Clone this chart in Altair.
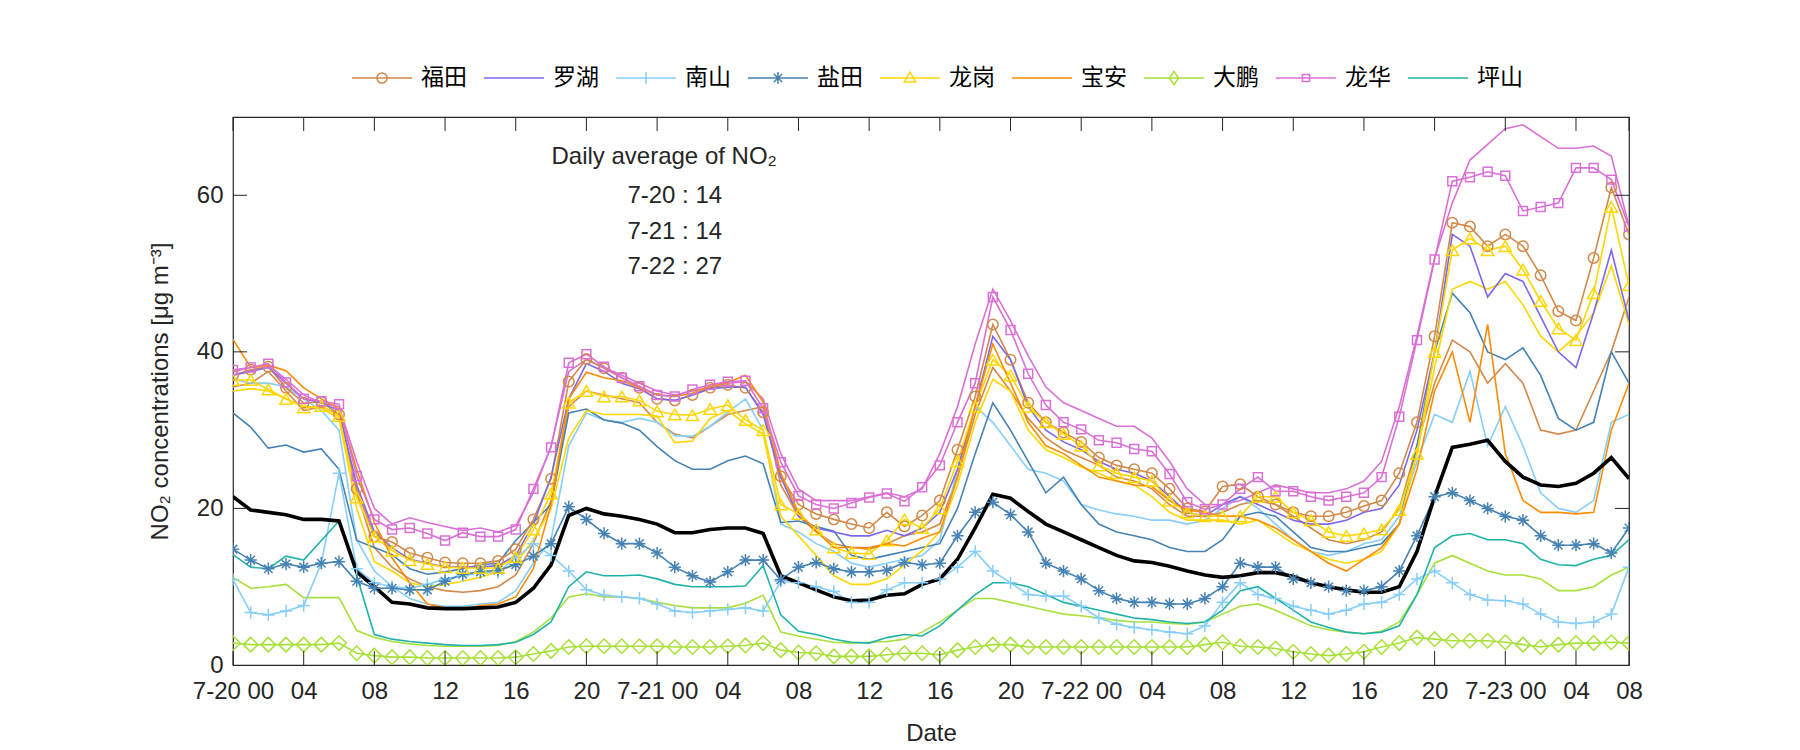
import altair as alt
import pandas as pd

hours = list(range(80))

# district names and colours (legend order)
names = ["福田", "罗湖", "南山", "盐田", "龙岗", "宝安", "大鹏", "龙华", "坪山"]
colors = ["#D2894A", "#7B68EE", "#87CEFA", "#4682B4", "#FFD700", "#FF8C00", "#A8E03A", "#DA70D6", "#20B2AA"]

avg_all = [21.5, 19.8, 19.5, 19.2, 18.6, 18.6, 18.4, 11.9, 10.0, 8.0,
           7.8, 7.3, 7.2, 7.2, 7.3, 7.4, 8.0, 9.8, 12.8, 19.1,
           20.0, 19.3, 19.0, 18.6, 18.0, 16.9, 16.9, 17.3, 17.5, 17.5,
           16.8, 11.4, 10.5, 9.6, 8.7, 8.2, 8.3, 8.9, 9.1, 10.3,
           11.0, 13.5, 17.5, 21.8, 21.3, 19.6, 18.0, 17.0, 16.0, 15.0,
           14.0, 13.3, 13.1, 12.6, 12.0, 11.5, 11.2, 11.4, 11.8, 11.8,
           11.3, 10.5, 10.0, 9.6, 9.3, 9.3, 10.0, 14.5, 21.5, 27.8,
           28.2, 28.7, 26.0, 24.0, 23.0, 22.8, 23.2, 24.5, 26.5, 23.8]

futian = [37.0, 37.7, 38.1, 35.4, 33.5, 33.6, 32.0, 22.5, 16.4, 15.7,
          14.3, 13.7, 13.1, 13.0, 13.0, 13.3, 14.8, 18.6, 23.8, 36.2,
          39.1, 37.9, 36.7, 35.4, 34.0, 33.8, 34.5, 35.4, 35.8, 35.4,
          32.3, 24.1, 20.5, 19.3, 18.6, 18.0, 17.5, 19.5, 17.7, 19.1,
          21.0, 27.5, 34.3, 43.5, 39.0, 33.5, 31.0, 29.7, 28.5, 26.5,
          25.5, 25.0, 24.5, 22.5, 20.0, 19.6, 22.8, 23.1, 21.5, 20.5,
          19.5, 19.0, 19.0, 19.5, 20.3, 21.0, 24.5, 31.0, 42.0, 56.5,
          56.0, 53.5, 55.0, 53.5, 49.8, 45.2, 44.0, 52.0, 61.0, 55.0]

luohu = [37.0, 37.5, 38.0, 36.0, 34.0, 33.5, 32.5, 23.0, 17.0, 15.0,
         13.5, 13.0, 12.5, 12.5, 12.5, 12.7, 14.0, 18.0, 24.0, 34.0,
         38.5, 37.5, 36.0, 35.3, 34.0, 33.8, 34.5, 35.3, 35.5, 35.5,
         32.0, 24.0, 19.0, 17.5, 17.0, 16.5, 16.5, 17.2, 16.5, 17.5,
         19.5, 25.0, 33.0, 42.0, 39.0, 33.0, 30.0, 28.5, 27.5, 26.0,
         25.0, 24.5, 23.5, 21.5, 19.5, 19.0, 20.5, 21.5, 20.5, 19.5,
         18.5, 18.0, 18.0, 18.5, 19.5, 20.0, 23.0, 30.0, 40.0, 55.0,
         53.5, 47.0, 50.0, 49.0, 44.5, 40.0, 38.0, 45.0, 53.0, 44.0]

nanshan = [10.9, 6.7, 6.4, 6.9, 7.6, 13.0, 24.5, 12.3, 10.5, 10.0,
           9.8, 10.3, 11.0, 11.4, 11.8, 11.8, 13.7, 15.5, 14.0, 12.0,
           9.6, 8.9, 8.7, 8.5, 7.8, 6.9, 6.7, 6.9, 7.1, 7.3,
           6.9, 10.7, 10.5, 10.0, 9.4, 8.0, 8.0, 9.6, 10.5, 10.5,
           11.0, 12.5, 14.5, 12.0, 10.5, 9.0, 8.8, 8.8, 7.5, 6.0,
           5.2, 4.8, 4.5, 4.2, 4.0, 5.0, 8.0, 10.5, 9.0, 8.5,
           7.5, 7.0, 6.5, 7.0, 7.8, 8.0, 9.0, 11.0, 12.0, 10.5,
           9.0, 8.3, 8.2, 7.8, 6.5, 5.5, 5.3, 5.5, 6.5, 12.5]

yantian = [14.8, 13.4, 12.3, 12.9, 12.5, 13.0, 13.2, 10.7, 9.8, 9.8,
           9.6, 9.6, 10.7, 11.6, 11.9, 12.1, 12.8, 13.9, 15.5, 20.2,
           18.6, 16.8, 15.5, 15.5, 14.3, 12.5, 11.4, 10.6, 11.9, 13.4,
           13.4, 10.9, 12.5, 13.1, 12.3, 11.9, 11.9, 12.1, 13.1, 12.8,
           13.0, 16.5, 19.5, 20.8, 19.2, 17.0, 13.0, 12.0, 11.0, 9.5,
           8.5, 8.0, 8.0, 7.8, 7.8, 8.5, 10.0, 13.0, 12.5, 12.5,
           11.0, 10.5, 10.0, 9.5, 9.5, 10.0, 12.0, 16.5, 21.5, 22.0,
           21.0, 20.0, 19.0, 18.5, 16.5, 15.3, 15.3, 15.5, 14.3, 17.5]

longgang = [36.4, 36.4, 35.2, 34.0, 32.9, 33.1, 31.8, 21.4, 16.4, 14.6,
            13.4, 12.9, 12.5, 12.4, 12.4, 12.4, 13.8, 17.3, 21.9, 33.5,
            35.0, 34.3, 34.3, 33.8, 32.4, 32.0, 31.9, 32.7, 33.2, 31.3,
            30.0, 20.5, 19.3, 17.3, 15.0, 14.3, 14.2, 15.9, 18.6, 17.5,
            20.0, 26.0, 33.0, 39.0, 37.0, 33.0, 31.0, 29.5, 28.0, 25.5,
            24.5, 24.0, 23.5, 21.0, 19.5, 19.0, 19.0, 19.0, 21.5, 21.5,
            19.5, 18.5, 17.0, 16.5, 16.8, 17.3, 19.8, 27.0, 40.0, 53.0,
            54.5, 53.0, 53.5, 50.5, 46.5, 43.0, 41.5, 47.5, 58.5, 48.5]

baoan = [41.6, 38.0, 38.3, 37.6, 35.4, 34.0, 32.7, 25.0, 18.2, 13.7,
         10.5, 7.8, 7.3, 7.1, 7.6, 7.8, 8.7, 12.3, 20.5, 34.0,
         37.4, 36.7, 36.3, 35.4, 34.5, 34.3, 34.7, 35.6, 36.1, 37.0,
         33.6, 24.5, 19.5, 17.1, 15.0, 15.0, 14.8, 15.5, 15.2, 16.2,
         17.0, 24.0, 33.0, 41.0, 36.0, 31.0, 28.0, 27.0, 25.5, 24.0,
         23.5, 23.0, 22.8, 21.0, 19.8, 19.5, 19.0, 19.0, 18.5, 17.5,
         16.0, 14.5, 13.0, 12.0, 13.5, 15.0, 18.0, 25.0, 35.0, 40.0,
         31.0, 43.5, 27.0, 21.0, 19.5, 19.5, 19.3, 19.5, 30.0, 36.0]

dapeng = [2.8, 2.6, 2.6, 2.6, 2.6, 2.6, 2.8, 1.5, 1.2, 1.0,
          1.0, 0.9, 0.9, 0.9, 0.9, 0.9, 1.0, 1.4, 1.8, 2.3,
          2.4, 2.4, 2.4, 2.4, 2.4, 2.3, 2.3, 2.3, 2.4, 2.5,
          2.8, 1.9, 1.6, 1.5, 1.1, 1.1, 1.1, 1.3, 1.5, 1.5,
          1.3, 1.9, 2.3, 2.6, 2.6, 2.3, 2.3, 2.3, 2.3, 2.3,
          2.3, 2.3, 2.3, 2.3, 2.3, 2.6, 2.9, 2.4, 2.3, 2.1,
          1.7, 1.4, 1.2, 1.4, 1.7, 2.3, 2.8, 3.5, 3.3, 3.1,
          3.1, 3.1, 2.9, 2.6, 2.3, 2.6, 2.8, 2.8, 2.9, 2.8]

longhua = [37.7, 38.0, 38.5, 36.1, 34.0, 33.7, 33.3, 24.1, 18.6, 17.3,
           17.5, 16.8, 15.9, 16.9, 16.4, 16.4, 17.3, 22.5, 27.8, 38.6,
           39.7, 38.1, 36.7, 35.6, 34.5, 34.3, 35.2, 35.8, 36.2, 36.3,
           32.8, 25.9, 21.6, 20.5, 20.0, 20.7, 21.4, 21.9, 20.9, 22.7,
           25.5, 31.0, 36.0, 47.0, 42.8, 37.2, 33.2, 31.0, 30.1, 28.7,
           28.4, 27.6, 27.3, 24.4, 20.8, 19.9, 20.5, 22.5, 24.0, 22.2,
           22.2, 21.5, 21.0, 21.5, 22.0, 24.0, 31.7, 41.5, 51.8, 61.8,
           62.3, 63.0, 62.5, 58.0, 58.5, 59.0, 63.5, 63.5, 62.0, 56.0]

pingshan = [14.1, 12.5, 12.3, 13.9, 13.4, 15.9, 18.4, 11.4, 3.9, 3.3,
            3.0, 2.8, 2.6, 2.5, 2.5, 2.6, 2.9, 3.9, 5.5, 10.0,
            11.9, 11.4, 11.4, 11.5, 11.0, 10.3, 10.0, 10.0, 10.0, 10.1,
            12.7, 6.4, 4.3, 3.9, 3.3, 2.9, 2.8, 3.5, 3.9, 3.7,
            5.0, 7.0, 9.0, 10.5, 10.5, 10.0, 9.0, 8.0, 7.5, 7.0,
            6.5, 6.0, 5.8, 5.5, 5.3, 5.5, 7.0, 9.5, 10.0, 8.5,
            7.0, 5.5, 4.8, 4.2, 4.0, 4.2, 5.0, 9.0, 15.0, 16.5,
            16.8, 16.0, 16.0, 15.5, 13.5, 12.8, 12.7, 13.5, 14.0, 16.0]

# second (unlabelled) lines drawn in the district colours
futian_b = [35.5, 36.0, 37.5, 35.0, 32.5, 33.0, 32.0, 22.0, 15.0, 12.5,
            11.0, 10.0, 9.5, 9.3, 9.5, 10.0, 11.5, 15.5, 21.0, 33.0,
            35.0, 34.5, 34.0, 33.5, 31.0, 29.5, 29.0, 30.5, 32.0, 32.5,
            33.0, 23.0, 19.0, 17.0, 15.5, 15.0, 15.0, 15.5, 16.5, 17.0,
            18.0, 24.0, 32.0, 38.0, 35.0, 31.5, 29.0, 27.5, 26.5, 25.5,
            24.0, 23.5, 22.5, 20.5, 19.0, 19.0, 19.5, 20.5, 21.0, 20.5,
            19.0, 17.5, 16.0, 15.5, 16.0, 17.0, 20.0, 28.0, 36.0, 41.5,
            40.0, 36.0, 38.5, 36.0, 30.0, 29.5, 30.0, 35.0, 40.0, 47.0]

nanshan_b = [36.5, 36.0, 36.0, 35.5, 34.0, 32.5, 30.0, 16.0, 12.0, 10.0,
             8.5, 7.8, 7.5, 7.5, 7.8, 8.0, 9.5, 13.0, 16.0, 28.0,
             32.2, 31.3, 31.0, 31.5, 31.0, 29.3, 29.2, 30.5, 32.3, 34.0,
             30.0, 18.0, 17.0, 15.5, 14.5, 13.0, 12.5, 13.0, 13.5, 14.0,
             16.0, 25.0, 33.0, 31.0, 28.0, 25.0, 24.5, 23.5, 20.5, 19.8,
             19.3, 19.0, 18.5, 18.5, 18.0, 18.5, 20.0, 21.5, 20.0, 18.0,
             16.0, 14.5, 14.0, 14.5, 15.5, 16.0, 19.0, 26.0, 32.0, 31.0,
             37.5, 28.0, 33.0, 28.0, 22.0, 20.0, 19.5, 21.0, 31.0, 32.0]

yantian_b = [32.2, 30.4, 27.7, 28.1, 27.2, 27.6, 25.0, 15.9, 15.0, 14.1,
             12.3, 11.6, 11.9, 12.3, 12.8, 13.0, 15.9, 18.2, 20.5, 32.2,
             32.7, 31.3, 30.9, 30.0, 27.9, 26.1, 25.0, 25.0, 26.1, 26.7,
             25.7, 18.2, 18.4, 17.7, 17.1, 14.0, 13.5, 14.0, 14.5, 15.0,
             15.5, 20.0, 27.0, 33.5, 30.0, 26.0, 22.0, 24.0, 20.5, 18.0,
             17.0, 16.5, 16.0, 15.0, 14.5, 14.5, 16.0, 19.0, 19.5, 19.0,
             17.0, 15.0, 14.5, 14.5, 15.0, 15.5, 18.0, 28.0, 40.0, 47.5,
             45.0, 40.0, 39.0, 40.5, 37.0, 31.5, 30.0, 31.0, 40.0, 36.0]

longgang_b = [35.0, 35.3, 35.0, 34.0, 33.0, 32.8, 31.5, 20.0, 13.2, 12.0,
              10.5, 10.0, 10.3, 10.7, 11.2, 11.9, 13.0, 16.0, 20.0, 29.0,
              32.5, 32.0, 32.0, 32.0, 31.8, 28.4, 28.6, 31.5, 32.5, 30.8,
              29.5, 19.0, 16.5, 14.0, 11.4, 10.3, 10.3, 11.0, 12.8, 14.6,
              17.0, 23.0, 31.0, 36.5, 35.0, 30.0, 27.5, 26.5, 25.3, 24.5,
              23.5, 23.0, 21.5, 19.5, 18.5, 18.5, 18.5, 18.0, 18.5, 17.0,
              15.5, 14.5, 13.5, 13.0, 13.5, 14.5, 18.0, 27.0, 38.0, 48.0,
              49.0, 48.0, 49.0, 46.0, 42.0, 40.0, 42.0, 45.0, 51.0, 43.5]

dapeng_b = [11.2, 9.8, 10.0, 10.3, 8.6, 8.6, 8.6, 4.4, 3.5, 3.0,
            2.7, 2.5, 2.4, 2.4, 2.4, 2.5, 3.0, 4.2, 6.0, 8.7,
            9.1, 8.7, 8.7, 8.5, 8.0, 7.6, 7.3, 7.3, 7.3, 7.9,
            8.9, 4.2, 3.7, 3.3, 2.9, 2.8, 2.9, 3.0, 3.3, 4.2,
            5.5, 7.0, 8.5, 8.5, 8.0, 7.5, 7.0, 6.5, 6.3, 6.0,
            5.7, 5.5, 5.5, 5.3, 5.2, 5.5, 6.5, 7.5, 7.8, 7.0,
            6.0, 5.0, 4.5, 4.2, 4.0, 4.3, 5.5, 9.0, 13.0, 14.0,
            13.0, 12.0, 11.5, 11.5, 11.0, 9.5, 9.5, 10.0, 11.5, 12.5]

longhua_b = [37.5, 38.0, 38.3, 36.5, 34.5, 33.5, 33.0, 26.0, 20.0, 18.0,
             18.8, 18.2, 17.7, 17.2, 17.5, 17.0, 17.8, 22.0, 28.0, 37.5,
             39.0, 38.0, 37.0, 36.0, 35.0, 34.5, 35.0, 35.5, 36.0, 36.2,
             34.0, 27.0, 22.5, 21.0, 21.0, 21.0, 21.5, 22.0, 21.5, 22.5,
             27.0, 33.0, 41.0, 48.0, 44.0, 39.5, 35.5, 33.5, 32.5, 31.5,
             30.5, 30.5, 29.0, 26.0, 22.5, 20.5, 20.5, 21.0, 22.0, 23.0,
             22.5, 22.0, 22.0, 22.5, 23.5, 26.0, 33.0, 42.0, 52.0, 59.0,
             64.5, 66.5, 68.5, 69.0, 67.5, 66.0, 66.0, 66.3, 65.0, 56.0]

main_series = dict(zip(names, [futian, luohu, nanshan, yantian, longgang,
                               baoan, dapeng, longhua, pingshan]))
extra_series = {"福田 2": (futian_b, colors[0]), "南山 2": (nanshan_b, colors[2]),
                "盐田 2": (yantian_b, colors[3]), "龙岗 2": (longgang_b, colors[4]),
                "大鹏 2": (dapeng_b, colors[6]), "龙华 2": (longhua_b, colors[7])}

# x tick positions (hours) and labels
xtick_hours = [0, 4, 8, 12, 16, 20, 24, 28, 32, 36, 40, 44, 48, 52, 56, 60, 64, 68, 72, 76, 79]
xtick_labels = ["7-20 00", "04", "08", "12", "16", "20", "7-21 00", "04", "08", "12", "16", "20",
                "7-22 00", "04", "08", "12", "16", "20", "7-23 00", "04", "08"]
ytick_values = [0, 20, 40, 60]

# annotation
note_lines = ["Daily average of NO₂", "7-20 : 14", "7-21 : 14", "7-22 : 27"]
note_hours = [24.4, 25.0, 25.0, 25.0]
note_values = [64.9, 59.9, 55.3, 50.8]

# ---- tables -----
rows = []
for n, vals in main_series.items():
    for h, v in zip(hours, vals):
        rows.append({"hour": h, "value": v, "series": n})
main_df = pd.DataFrame(rows)
rows = []
for n, (vals, c) in extra_series.items():
    for h, v in zip(hours, vals):
        rows.append({"hour": h, "value": v, "series": n})
extra_df = pd.DataFrame(rows)
avg_df = pd.DataFrame({"hour": hours, "value": avg_all})

W, H = 1396, 548
FONT = "Liberation Sans"
TXT = "#262626"

label_expr = ("[" + ",".join("'%s'" % s for s in xtick_labels) + "][indexof(["
              + ",".join(str(h) for h in xtick_hours) + "], datum.value)]")

xscale = alt.Scale(domain=[0, 79], nice=False, zero=False)
yscale = alt.Scale(domain=[0, 70], nice=False, zero=True)
xaxis = alt.Axis(values=xtick_hours, labelExpr=label_expr, ticks=False, domain=False, grid=False,
                 labelFlush=False, labelOverlap=False, labelFontSize=24, labelFont=FONT,
                 labelColor=TXT, labelPadding=14, title="Date", titleFontSize=24, titleFont=FONT,
                 titleFontWeight="normal", titleColor=TXT, titleY=68, titleBaseline="middle")
yaxis = alt.Axis(values=ytick_values, ticks=False, domain=False, grid=False, labelFontSize=24,
                 labelFont=FONT, labelColor=TXT, labelPadding=10,
                 title="NO₂ concentrations [μg m⁻³]", titleFontSize=24, titleFont=FONT,
                 titleFontWeight="normal", titleColor=TXT, titleX=-73, titleY=H / 2,
                 titleAngle=-90, titleBaseline="middle", titleAlign="center")
X = alt.X("hour:Q", scale=xscale, axis=xaxis)
Y = alt.Y("value:Q", scale=yscale, axis=yaxis)

extra_lines = alt.Chart(extra_df).mark_line(strokeWidth=1.6, clip=True).encode(
    x=X, y=Y,
    color=alt.Color("series:N", scale=alt.Scale(domain=list(extra_series.keys()),
                                                range=[c for _, c in extra_series.values()]),
                    legend=None))
main_lines = alt.Chart(main_df).mark_line(strokeWidth=1.6, clip=True).encode(
    x=X, y=Y,
    detail="series:N",
    stroke=alt.Stroke("series:N", scale=alt.Scale(domain=names, range=colors), legend=None))
avg_line = alt.Chart(avg_df).mark_line(color="black", strokeWidth=3.6, clip=True).encode(x=X, y=Y)

marker_specs = [
    ("福田", "circle", 110),
    ("南山", "M-1,0L1,0M0,-1L0,1", 150),
    ("盐田", "M-1,0L1,0M0,-1L0,1M-0.7,-0.7L0.7,0.7M-0.7,0.7L0.7,-0.7", 150),
    ("龙岗", "triangle-up", 150),
    ("大鹏", "diamond", 210),
    ("龙华", "square", 80),
]
marker_layers = []
for n, shp, sz in marker_specs:
    c = colors[names.index(n)]
    marker_layers.append(
        alt.Chart(main_df).transform_filter(alt.datum.series == n).mark_point(
            shape=shp, size=sz, filled=False, color=c, strokeWidth=1.5, opacity=1, clip=True
        ).encode(x=X, y=Y))

legend_paths = [
    "M-1,0L1,0M-0.17,0A0.17,0.17 0 1 0 0.17,0A0.17,0.17 0 1 0 -0.17,0",
    "M-1,0L1,0",
    "M-1,0L1,0M0,-0.2L0,0.2",
    "M-1,0L1,0M0,-0.2L0,0.2M-0.14,-0.14L0.14,0.14M-0.14,0.14L0.14,-0.14",
    "M-1,0L1,0M0,-0.2L0.19,0.13L-0.19,0.13Z",
    "M-1,0L1,0",
    "M-1,0L1,0M0,-0.22L0.15,0L0,0.22L-0.15,0Z",
    "M-1,0L1,0M-0.12,-0.12L0.12,-0.12L0.12,0.12L-0.12,0.12Z",
    "M-1,0L1,0",
]
leg = alt.Legend(orient="none", legendX=118, legendY=-70, direction="horizontal", title=None,
                 symbolSize=3600, symbolStrokeWidth=1.5, symbolOpacity=1, labelFontSize=23,
                 labelFont="Noto Sans CJK SC", labelColor="#000000", labelOffset=8,
                 columnPadding=14, values=names)
legend_layer = alt.Chart(main_df).mark_point(filled=False, opacity=0, size=1).encode(
    x=X, y=Y,
    color=alt.Color("series:N", scale=alt.Scale(domain=names, range=colors), legend=leg),
    shape=alt.Shape("series:N", scale=alt.Scale(domain=names, range=legend_paths), legend=leg))

# inward tick marks on all four sides
xt_df = pd.DataFrame({"hour": xtick_hours})
yt_df = pd.DataFrame({"value": ytick_values[1:]})
tick_color = "#262626"
tb = alt.Chart(xt_df).mark_rule(color=tick_color, strokeWidth=1).encode(
    x=X, y=alt.value(H), y2=alt.value(H - 14))
tt = alt.Chart(xt_df).mark_rule(color=tick_color, strokeWidth=1).encode(
    x=X, y=alt.value(0), y2=alt.value(14))
tl = alt.Chart(yt_df).mark_rule(color=tick_color, strokeWidth=1).encode(
    y=Y, x=alt.value(0), x2=alt.value(14))
tr = alt.Chart(yt_df).mark_rule(color=tick_color, strokeWidth=1).encode(
    y=Y, x=alt.value(W), x2=alt.value(W - 14))

note_df = pd.DataFrame({"hour": note_hours, "value": note_values, "label": note_lines})
notes = alt.Chart(note_df).mark_text(fontSize=24, font=FONT, color=TXT, align="center",
                                     baseline="middle").encode(x=X, y=Y, text="label:N")

chart = alt.layer(
    extra_lines, main_lines, avg_line, *marker_layers, legend_layer, tb, tt, tl, tr, notes
).resolve_scale(color="independent", stroke="independent", shape="independent").properties(
    width=W, height=H,
    autosize=alt.AutoSizeParams(type="none"),
    padding={"left": 233, "top": 117, "right": 171, "bottom": 85},
    background="white",
).configure_view(stroke="#262626", strokeWidth=1.2)

chart.save("out.html", embed_options={"renderer": "svg", "actions": False})
